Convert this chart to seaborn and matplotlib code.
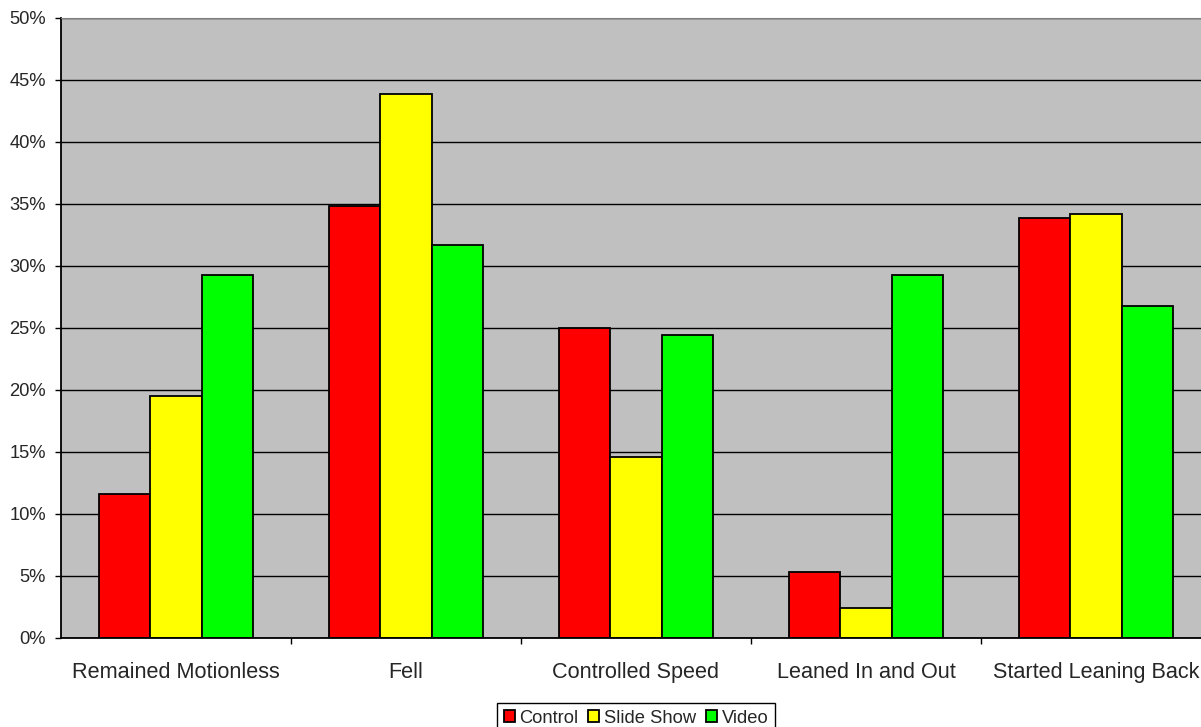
import pandas as pd
import seaborn as sns
import matplotlib.pyplot as plt
from matplotlib.ticker import PercentFormatter, MultipleLocator, FixedLocator

categories = ['Remained Motionless', 'Fell', 'Controlled Speed', 'Leaned In and Out', 'Started Leaning Back']
groups = ['Control', 'Slide Show', 'Video']
control = [11.6, 34.8, 25.0, 5.3, 33.9]
slide_show = [19.5, 43.9, 14.6, 2.4, 34.2]
video = [29.3, 31.7, 24.4, 29.3, 26.8]
colors = ['#FF0000', '#FFFF00', '#00FF00']

rows = []
for name, vals in zip(groups, [control, slide_show, video]):
    for cat, v in zip(categories, vals):
        rows.append({'category': cat, 'group': name, 'value': v / 100})
df = pd.DataFrame(rows)

sns.set_style('white')
plt.rcParams['font.family'] = ['Liberation Sans', 'DejaVu Sans']

fig = plt.figure(figsize=(12.01, 7.27), dpi=100)
ax = fig.add_axes([61 / 1201, (727 - 638) / 727, 1150 / 1201, 620 / 727])
ax.set_facecolor('#C0C0C0')

sns.barplot(data=df, x='category', y='value', hue='group', palette=colors,
            width=0.67, edgecolor='black', linewidth=1.3, ax=ax, saturation=1)

ax.set_xlim(-0.5, 4.5)
ax.set_ylim(0, 0.5)
ax.yaxis.set_major_locator(MultipleLocator(0.05))
ax.yaxis.set_major_formatter(PercentFormatter(1.0, decimals=0))
ax.grid(axis='y', color='black', linewidth=1)
ax.set_axisbelow(True)

# category labels centred, tick marks at group boundaries
ax.tick_params(axis='x', which='major', length=0, pad=17, labelsize=15.6)
ax.xaxis.set_minor_locator(FixedLocator([0.5, 1.5, 2.5, 3.5]))
ax.tick_params(axis='x', which='minor', length=4.3, width=1, color='black', direction='out', bottom=True)
ax.tick_params(axis='y', length=4.3, width=1, color='black', direction='out', left=True, pad=6.5, labelsize=13.2)
ax.set_xlabel('')
ax.set_ylabel('')

for side in ['left', 'bottom']:
    ax.spines[side].set_color('black')
    ax.spines[side].set_linewidth(1.3)
ax.spines['top'].set_color('#808080')
ax.spines['right'].set_visible(False)

handles, labels = ax.get_legend_handles_labels()
ax.get_legend().remove()
leg = ax.legend(handles, labels, loc='upper center', bbox_to_anchor=(0.5, -0.105), ncol=3,
                fontsize=13.2, frameon=True, fancybox=False, framealpha=1,
                handlelength=0.6, handleheight=0.6, handletextpad=0.25,
                columnspacing=0.55, borderpad=0.35, borderaxespad=0)
leg.get_frame().set_edgecolor('black')
leg.get_frame().set_linewidth(1)

fig.savefig('out.png', dpi=100)
